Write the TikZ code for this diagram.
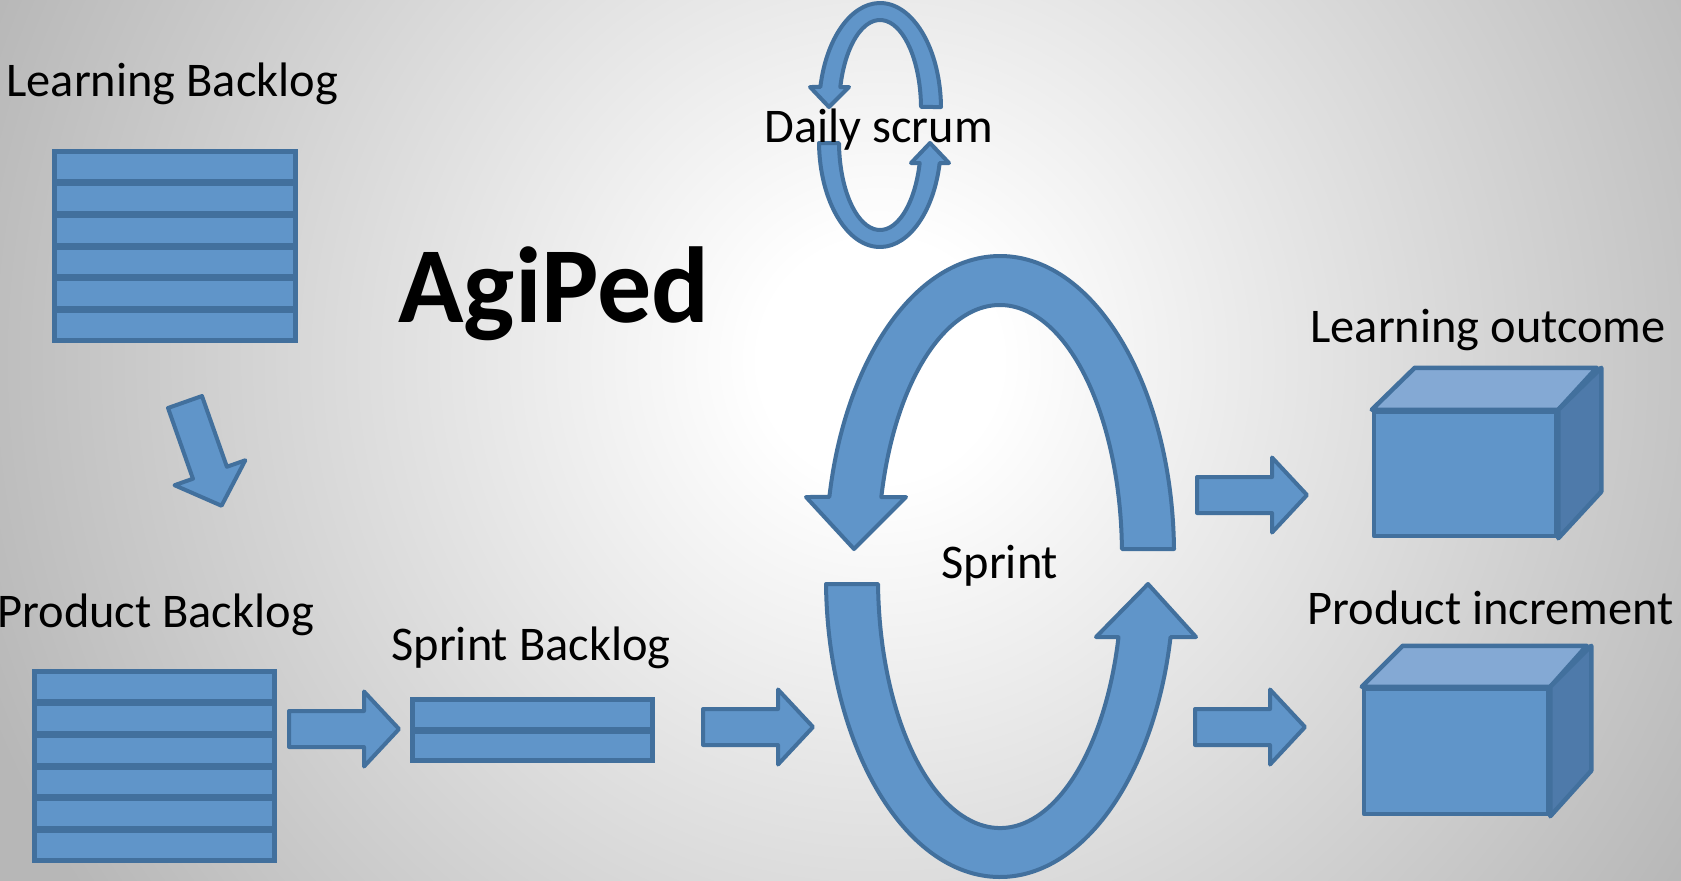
\documentclass[tikz,border=0pt]{standalone}
\usepackage{fontspec}
\setmainfont{Carlito}
\usetikzlibrary{calc}
\definecolor{bfill}{RGB}{96,149,201}
\definecolor{bline}{RGB}{66,112,157}
\definecolor{ctop}{RGB}{132,169,212}
\definecolor{cside}{RGB}{78,122,170}
\definecolor{bggray}{RGB}{183,183,183}
\pgfdeclareradialshading{bgrad}{\pgfpoint{0bp}{0bp}}{color(0bp)=(white); color(3bp)=(white); color(24bp)=(bggray); color(50bp)=(bggray)}
\tikzset{
  lbl/.style={anchor=base west, inner sep=0pt, font=\fontsize{24.2}{29}\selectfont},
  shapefill/.style={fill=bfill, draw=bline, line width=2pt, line join=round},
  rowbox/.style={fill=bfill, draw=bline, line width=2.5pt},
  cubeline/.style={draw=bline, line width=2.25pt, line join=round},
  barrow/.pic={\draw[shapefill] (0,-18) -- (75,-18) -- (75,-37.5) -- (110,0) -- (75,37.5) -- (75,18) -- (0,18) -- cycle;}
}
\newcommand{\backlog}[6]{% name, x0, y0, x1, y1, rows
  \coordinate (#1) at ({(#2+#4)/2},{(#3+#5)/2});
  \pgfmathsetmacro{\bh}{(#5-#3-5+2)/#6}
  \foreach \k in {1,...,#6}{
    \draw[rowbox] ({#2+2.5},{#3+2.5+(\k-1)*\bh}) rectangle ({#4-2.5},{#3+2.5+\k*\bh-2});
  }
}
\begin{document}
\begin{tikzpicture}[x=0.5pt,y=-0.5pt]
\useasboundingbox (0,0) rectangle (1681,880);
\begin{scope}
  \clip (0,0) rectangle (1681,880);
  \shade[shading=bgrad] (-120,-640) rectangle (1880,1360);
\end{scope}

% backlogs
\backlog{lb}{52}{149}{298}{343}{6}
\backlog{pb}{32}{669}{277}{863}{6}
\backlog{sb}{410}{697}{655}{763}{2}

% block arrows
\pic[rotate=-70.6] at (185,402) {barrow};
\pic at (289,729) {barrow};
\pic at (703,727) {barrow};
\pic at (1197,495) {barrow};
\pic at (1195,727) {barrow};

% daily scrum loops
\coordinate (dtop) at (880,109);
\coordinate (dbot) at (880,141);
\draw[shapefill] (941,107) arc[start angle=1.08, end angle=168.0, x radius=30.5pt, y radius=53pt]
  -- (810,87) -- (829,107) -- (849,87) -- (840.3,87)
  arc[start angle=165.7, end angle=1.29, x radius=20.5pt, y radius=44.5pt] -- cycle;
\draw[shapefill] (819,143) arc[start angle=181.08, end angle=348.0, x radius=30.5pt, y radius=53pt]
  -- (949,163) -- (930,143) -- (911,163) -- (919.7,163)
  arc[start angle=345.7, end angle=181.29, x radius=20.5pt, y radius=44.5pt] -- cycle;

% sprint loops
\coordinate (stop) at (1000,555);
\coordinate (sbot) at (1000,578);
\draw[shapefill] (1174,549) arc[start angle=1.15, end angle=168.8, x radius=87pt, y radius=149.5pt]
  -- (806,497) -- (854,549) -- (906,497) -- (881.3,497.1)
  arc[start angle=166.6, end angle=1.375, x radius=61pt, y radius=125pt] -- cycle;
\draw[shapefill] (826,584) arc[start angle=181.15, end angle=348.6, x radius=87pt, y radius=149.5pt]
  -- (1196,637) -- (1148,584) -- (1096,637) -- (1118.5,637.2)
  arc[start angle=346.3, end angle=181.375, x radius=61pt, y radius=125pt] -- cycle;

% cubes
\node[fill=bfill, cubeline, inner sep=0pt, minimum width=91pt, minimum height=62pt] (lo) at (1465,474) {};
\draw[cubeline, fill=ctop] (lo.north west) -- ++(43,-42) -- ++(182,0) -- (lo.north east) -- cycle;
\draw[cubeline, fill=cside] (lo.north east) -- ++(43,-42) -- ++(0,124) -- (lo.south east) -- cycle;

\node[fill=bfill, cubeline, inner sep=0pt, minimum width=92pt, minimum height=62.5pt] (pi) at (1456,751.5) {};
\draw[cubeline, fill=ctop] (pi.north west) -- ++(41,-41) -- ++(184,0) -- (pi.north east) -- cycle;
\draw[cubeline, fill=cside] (pi.north east) -- ++(41,-41) -- ++(0,125) -- (pi.south east) -- cycle;

% texts
\node[lbl] (tlb) at (6,96) {Learning Backlog};
\node[lbl, font=\bfseries\fontsize{54}{60}\selectfont] (tag) at (398,322) {AgiPed};
\node[lbl] (tds) at (764,142) {Daily scrum};
\node[lbl] (tpb) at (-3,627) {Product Backlog};
\node[lbl] (tsb) at (391,660) {Sprint Backlog};
\node[lbl] (tsp) at (941,578) {Sprint};
\node[lbl] (tlo) at (1310,342) {Learning outcome};
\node[lbl] (tpi) at (1307,624) {Product increment};
\end{tikzpicture}
\end{document}
